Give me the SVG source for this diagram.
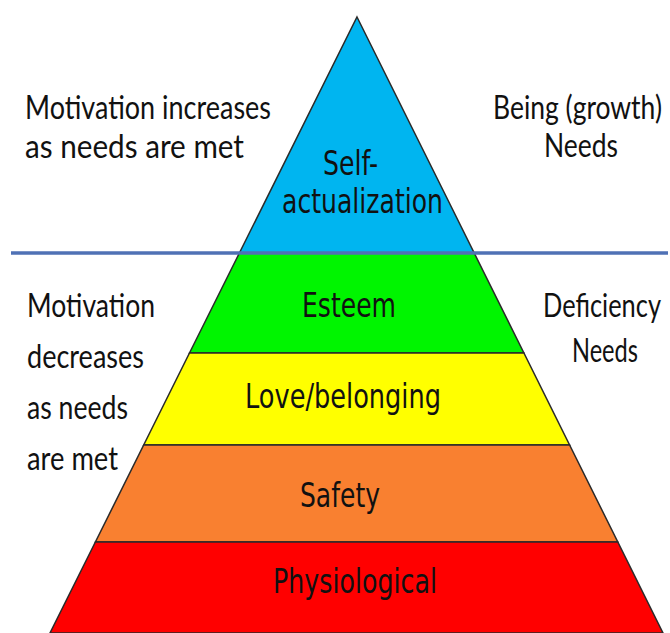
<svg xmlns="http://www.w3.org/2000/svg" width="670" height="633" viewBox="0 0 670 633">
<style>
.band{stroke:#2a2a2a;stroke-width:1.5;stroke-linejoin:miter}
.pl{font-family:"DejaVu Sans",Verdana,sans-serif;font-size:34px;fill:#111111}
.sl{font-family:Lato,"Open Sans",sans-serif;font-size:33px;fill:#111111}
</style>
<rect x="0" y="0" width="670" height="633" fill="#ffffff"/>
<g id="self-actualization">
<polygon class="band" points="357,17 474.2,253 239.4,253" fill="#00B5F0"/>
<text class="pl" x="323" y="175" textLength="55" lengthAdjust="spacingAndGlyphs">Self-</text>
<text class="pl" x="282" y="213" textLength="161" lengthAdjust="spacingAndGlyphs">actualization</text>
</g>
<g id="esteem">
<polygon class="band" points="239.4,253 474.2,253 523.9,353 189.5,353" fill="#00F500"/>
<text class="pl" x="302" y="317" textLength="94" lengthAdjust="spacingAndGlyphs">Esteem</text>
</g>
<g id="love-belonging">
<polygon class="band" points="189.5,353 523.9,353 569.6,445 143.7,445" fill="#FFFF00"/>
<text class="pl" x="245" y="408" textLength="196" lengthAdjust="spacingAndGlyphs">Love/belonging</text>
</g>
<g id="safety">
<polygon class="band" points="143.7,445 569.6,445 617.8,542 95.4,542" fill="#F98030"/>
<text class="pl" x="300" y="507" textLength="80" lengthAdjust="spacingAndGlyphs">Safety</text>
</g>
<g id="physiological">
<polygon class="band" points="95.4,542 617.8,542 663,633 50,633" fill="#FF0000"/>
<text class="pl" x="273" y="593" textLength="164" lengthAdjust="spacingAndGlyphs">Physiological</text>
</g>
<g id="connectors">
<line x1="11" y1="253" x2="668" y2="253" stroke="#4F71B5" stroke-width="3.5"/>
</g>
<g id="motivation-increases">
<text class="sl" x="25" y="119" textLength="246" lengthAdjust="spacingAndGlyphs">Motivation increases</text>
<text class="sl" x="25" y="158" textLength="219" lengthAdjust="spacingAndGlyphs">as needs are met</text>
</g>
<g id="being-needs">
<text class="sl" x="493" y="119" textLength="169" lengthAdjust="spacingAndGlyphs">Being (growth)</text>
<text class="sl" x="544" y="157" textLength="74" lengthAdjust="spacingAndGlyphs">Needs</text>
</g>
<g id="motivation-decreases">
<text class="sl" x="27" y="317" textLength="128" lengthAdjust="spacingAndGlyphs">Motivation</text>
<text class="sl" x="27" y="368" textLength="117" lengthAdjust="spacingAndGlyphs">decreases</text>
<text class="sl" x="27" y="419" textLength="101" lengthAdjust="spacingAndGlyphs">as needs</text>
<text class="sl" x="27" y="470" textLength="91" lengthAdjust="spacingAndGlyphs">are met</text>
</g>
<g id="deficiency-needs">
<text class="sl" x="543" y="317" textLength="118" lengthAdjust="spacingAndGlyphs">Deficiency</text>
<text class="sl" x="572" y="362" textLength="66" lengthAdjust="spacingAndGlyphs">Needs</text>
</g>
</svg>
